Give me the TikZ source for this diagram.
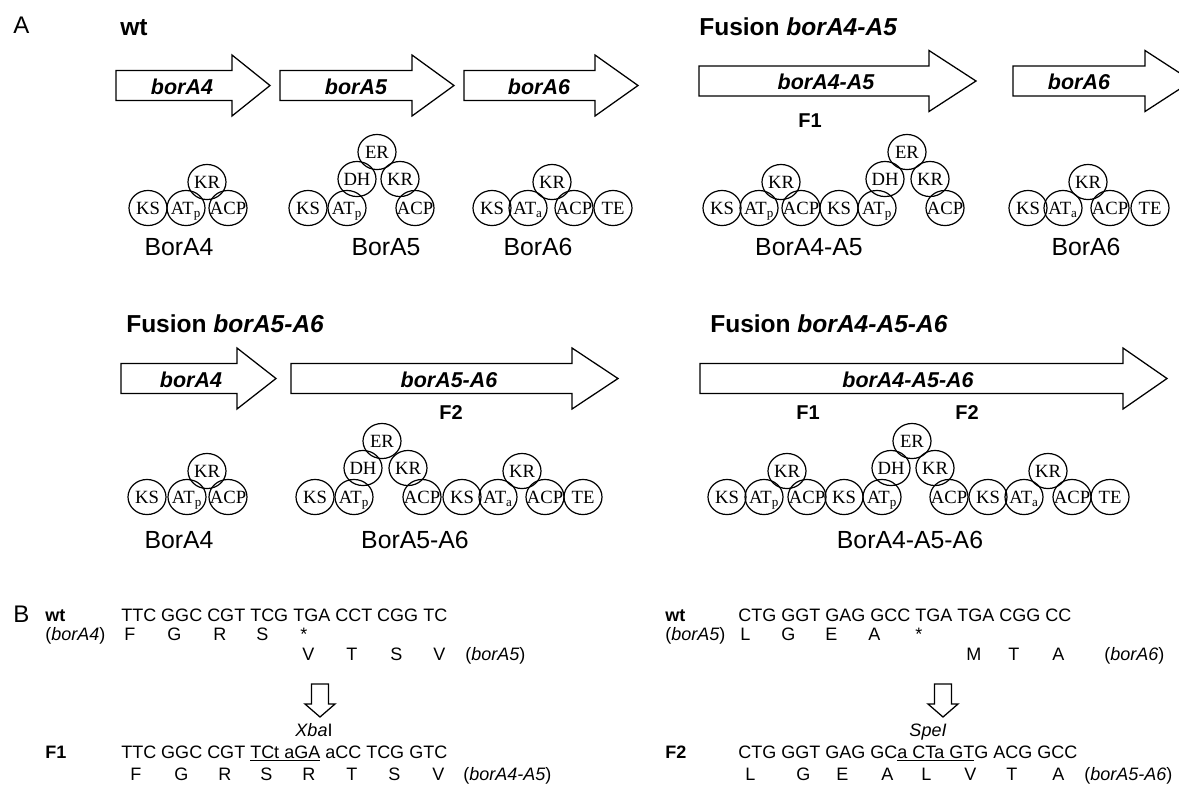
\documentclass[tikz,border=0pt]{standalone}
\usepackage{fontspec}
\setmainfont{Liberation Sans}
\newfontfamily\tnr{Liberation Serif}
\usetikzlibrary{shapes.geometric}
\newcommand\garrow[4]{%
  \draw[geneline] (#1,#4-15) -- (#2,#4-15) -- (#2,#4-30.5) -- (#3,#4) -- (#2,#4+30.5) -- (#2,#4+15) -- (#1,#4+15) -- cycle;}
\newcommand\darrow[1]{%
  \draw[geneline] (#1-8.5,684) -- (#1+8.5,684) -- (#1+8.5,704) -- (#1+15,704) -- (#1,717) -- (#1-15,704) -- (#1-8.5,704) -- cycle;}
\begin{document}
\begin{tikzpicture}[x=0.75pt,y=-0.75pt,
  geneline/.style={draw=black,line width=0.95pt,line join=miter},
  dom/.style={ellipse,draw,line width=0.9pt,minimum width=28.5pt,minimum height=26.3pt,inner sep=0pt,
    text height=9.2pt,text depth=0pt,font=\tnr\fontsize{14}{14}\selectfont,
    execute at begin node={\hbox to 0pt\bgroup\hss},execute at end node={\hss\egroup}},
  panel/.style={font=\fontsize{18}{20}\selectfont,inner sep=0pt,anchor=base west},
  title/.style={font=\bfseries\fontsize{18.4}{20}\selectfont,inner sep=0pt,anchor=base west},
  gene/.style={font=\bfseries\itshape\fontsize{16.1}{18}\selectfont,inner sep=0pt,anchor=base},
  fus/.style={font=\bfseries\fontsize{15}{16}\selectfont,inner sep=0pt,anchor=base},
  prot/.style={font=\fontsize{18.6}{20}\selectfont,inner sep=0pt,anchor=base},
  seq/.style={font=\fontsize{13.5}{15}\selectfont,inner sep=0pt,anchor=base west},
  seqb/.style={font=\bfseries\fontsize{13.5}{15}\selectfont,inner sep=0pt,anchor=base west},
  seqc/.style={font=\fontsize{13.5}{15}\selectfont,inner sep=0pt,anchor=base}]
\useasboundingbox (0,0) rectangle (1179,790);
\fill[white] (0,0) rectangle (1179,790);

% ---------- panel A titles ----------
\node[panel] (lblA) at (13,33) {A};
\node[title] (twt) at (120,35) {wt};
\node[title] (tf45) at (699,35) {Fusion \textit{borA4-A5}};
\node[title] (tf56) at (126,332) {Fusion \textit{borA5-A6}};
\node[title] (tf456) at (710,332) {Fusion \textit{borA4-A5-A6}};

% ---------- gene arrows ----------
\garrow{116}{232}{270}{85.5}
\garrow{280}{412}{454}{85.5}
\garrow{464}{595}{638}{85.5}
\garrow{699}{929}{976}{81}
\begin{scope}
  \clip (0,0) rectangle (1179,790);
  \garrow{1013}{1145}{1192}{81}
\end{scope}
\garrow{121}{237}{276}{378.5}
\garrow{291}{572}{618}{378.5}
\garrow{700}{1123}{1167}{378.5}

\node[gene] (g4) at (182,94) {borA4};
\node[gene] (g5) at (356,94) {borA5};
\node[gene] (g6) at (539,94) {borA6};
\node[gene] (g45) at (826,89.5) {borA4-A5};
\node[gene] (g6b) at (1079,89.5) {borA6};
\node[gene] (g4b) at (191,387) {borA4};
\node[gene] (g56) at (449,387) {borA5-A6};
\node[gene] (g456) at (908,387) {borA4-A5-A6};

\node[fus] (f1a) at (810,127) {F1};
\node[fus] (f2a) at (451,419) {F2};
\node[fus] (f1b) at (808,419) {F1};
\node[fus] (f2b) at (967,419) {F2};

% ---------- domains, top row ----------
% BorA4
\node[dom] (t1ks) at (148,208) {KS};
\node[dom] (t1at) at (186,208) {AT\textsubscript{p}};
\node[dom] (t1acp) at (228,208) {ACP};
\node[dom] (t1kr) at (207,182) {KR};
% BorA5
\node[dom] (t2ks) at (308,208) {KS};
\node[dom] (t2at) at (347,208) {AT\textsubscript{p}};
\node[dom] (t2dh) at (357,179) {DH};
\node[dom] (t2er) at (377,152) {ER};
\node[dom] (t2kr) at (400,179) {KR};
\node[dom] (t2acp) at (415,208) {ACP};
% BorA6
\node[dom] (t3ks) at (492,208) {KS};
\node[dom] (t3at) at (528,208) {AT\textsubscript{a}};
\node[dom] (t3kr) at (552,182) {KR};
\node[dom] (t3acp) at (574,208) {ACP};
\node[dom] (t3te) at (613,208) {TE};
% BorA4-A5
\node[dom] (t4ks) at (722,208) {KS};
\node[dom] (t4at) at (759,208) {AT\textsubscript{p}};
\node[dom] (t4kr) at (781,182) {KR};
\node[dom] (t4acp) at (801,208) {ACP};
\node[dom] (t4ksb) at (839,208) {KS};
\node[dom] (t4atb) at (877,208) {AT\textsubscript{p}};
\node[dom] (t4dh) at (885,179) {DH};
\node[dom] (t4er) at (907,152) {ER};
\node[dom] (t4krb) at (930,179) {KR};
\node[dom] (t4acpb) at (945,208) {ACP};
% BorA6 (fusion)
\node[dom] (t5ks) at (1028,208) {KS};
\node[dom] (t5at) at (1063,208) {AT\textsubscript{a}};
\node[dom] (t5kr) at (1088,182) {KR};
\node[dom] (t5acp) at (1110,208) {ACP};
\node[dom] (t5te) at (1150,208) {TE};

% ---------- domains, bottom row ----------
% BorA4
\node[dom] (b1ks) at (147,497) {KS};
\node[dom] (b1at) at (187,497) {AT\textsubscript{p}};
\node[dom] (b1acp) at (228,497) {ACP};
\node[dom] (b1kr) at (207,471) {KR};
% BorA5-A6
\node[dom] (b2ks) at (315,497) {KS};
\node[dom] (b2at) at (354,497) {AT\textsubscript{p}};
\node[dom] (b2dh) at (363,468) {DH};
\node[dom] (b2er) at (382,441) {ER};
\node[dom] (b2kr) at (408,468) {KR};
\node[dom] (b2acp) at (422,497) {ACP};
\node[dom] (b2ksb) at (462,497) {KS};
\node[dom] (b2atb) at (498,497) {AT\textsubscript{a}};
\node[dom] (b2krb) at (522,471) {KR};
\node[dom] (b2acpb) at (545,497) {ACP};
\node[dom] (b2te) at (583,497) {TE};
% BorA4-A5-A6
\node[dom] (b3ks) at (727,497) {KS};
\node[dom] (b3at) at (764,497) {AT\textsubscript{p}};
\node[dom] (b3kr) at (787,471) {KR};
\node[dom] (b3acp) at (807,497) {ACP};
\node[dom] (b3ksb) at (844,497) {KS};
\node[dom] (b3atb) at (882,497) {AT\textsubscript{p}};
\node[dom] (b3dh) at (891,468) {DH};
\node[dom] (b3er) at (912,441) {ER};
\node[dom] (b3krb) at (935,468) {KR};
\node[dom] (b3acpb) at (949,497) {ACP};
\node[dom] (b3ksc) at (988,497) {KS};
\node[dom] (b3atc) at (1024,497) {AT\textsubscript{a}};
\node[dom] (b3krc) at (1048,471) {KR};
\node[dom] (b3acpc) at (1072,497) {ACP};
\node[dom] (b3te) at (1110,497) {TE};

% ---------- protein labels ----------
\node[prot] (p4) at (179,255) {BorA4};
\node[prot] (p5) at (386,255) {BorA5};
\node[prot] (p6) at (538,255) {BorA6};
\node[prot] (p45) at (809,255) {BorA4-A5};
\node[prot] (p6b) at (1086,255) {BorA6};
\node[prot] (p4b) at (179,548) {BorA4};
\node[prot] (p56) at (415,548) {BorA5-A6};
\node[prot] (p456) at (910,548) {BorA4-A5-A6};

% ---------- panel B, left ----------
\node[panel] (lblB) at (13,622) {B};
\node[seqb] (lwt) at (45,621) {wt};
\node[seq] (ldna) at (121,621) {TTC GGC CGT TCG TGA CCT CGG TC};
\node[seq] (lg4) at (45,640) {(\textit{borA4})};
\node[seq] (la1) at (124,640) {F};
\node[seq] (la2) at (167,640) {G};
\node[seq] (la3) at (213,640) {R};
\node[seq] (la4) at (256,640) {S};
\node[seq] (la5) at (300,640) {*};
\node[seq] (lb1) at (302,660) {V};
\node[seq] (lb2) at (346,660) {T};
\node[seq] (lb3) at (390,660) {S};
\node[seq] (lb4) at (433,660) {V};
\node[seq] (lg5) at (465,660) {(\textit{borA5})};
\darrow{320}
\node[seqc] (xba) at (314,736) {\textit{Xba}I};
\node[seqb] (lf1) at (45,758) {F1};
\node[seq] (ldnaf) at (121,758) {TTC GGC CGT \underline{TCt aGA} aCC TCG GTC};
\node[seq] (lc1) at (130,780) {F};
\node[seq] (lc2) at (174,780) {G};
\node[seq] (lc3) at (218,780) {R};
\node[seq] (lc4) at (260,780) {S};
\node[seq] (lc5) at (302,780) {R};
\node[seq] (lc6) at (346,780) {T};
\node[seq] (lc7) at (388,780) {S};
\node[seq] (lc8) at (432,780) {V};
\node[seq] (lg45) at (463,780) {(\textit{borA4-A5})};

% ---------- panel B, right ----------
\node[seqb] (rwt) at (665,621) {wt};
\node[seq] (rdna) at (738,621) {CTG GGT GAG GCC TGA TGA CGG CC};
\node[seq] (rg5) at (665,640) {(\textit{borA5})};
\node[seq] (ra1) at (740,640) {L};
\node[seq] (ra2) at (781,640) {G};
\node[seq] (ra3) at (825,640) {E};
\node[seq] (ra4) at (868,640) {A};
\node[seq] (ra5) at (915,640) {*};
\node[seq] (rb1) at (966,660) {M};
\node[seq] (rb2) at (1008,660) {T};
\node[seq] (rb3) at (1052,660) {A};
\node[seq] (rg6) at (1104,660) {(\textit{borA6})};
\darrow{943}
\node[seqc] (spe) at (928,736) {\textit{SpeI}};
\node[seqb] (rf2) at (665,758) {F2};
\node[seq] (rdnaf) at (738,758) {CTG GGT GAG GC\underline{a CTa GT}G ACG GCC};
\node[seq] (rc1) at (745,780) {L};
\node[seq] (rc2) at (796,780) {G};
\node[seq] (rc3) at (836,780) {E};
\node[seq] (rc4) at (881,780) {A};
\node[seq] (rc5) at (921,780) {L};
\node[seq] (rc6) at (964,780) {V};
\node[seq] (rc7) at (1006,780) {T};
\node[seq] (rc8) at (1052,780) {A};
\node[seq] (rg56) at (1084,780) {(\textit{borA5-A6})};
\end{tikzpicture}
\end{document}
